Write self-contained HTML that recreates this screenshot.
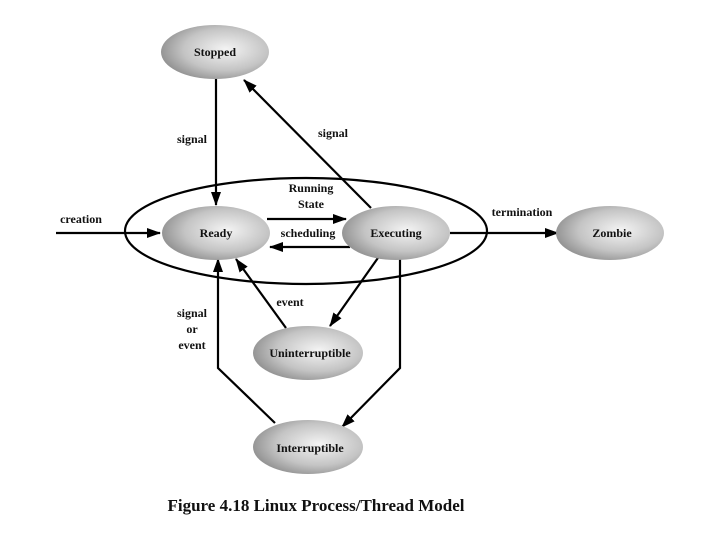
<!DOCTYPE html>
<html><head><meta charset="utf-8"><style>
html,body{margin:0;padding:0;background:#fff;}
svg{display:block;}
text{font-family:"Liberation Serif",serif;font-weight:bold;fill:#111;}
</style></head><body>
<svg width="720" height="540" viewBox="0 0 720 540" xmlns="http://www.w3.org/2000/svg">
<defs>
<radialGradient id="g" cx="0.6" cy="0.45" r="0.65">
<stop offset="0" stop-color="#f4f4f4"/>
<stop offset="0.6" stop-color="#c4c4c4"/>
<stop offset="1" stop-color="#8a8a8a"/>
</radialGradient>
<marker id="a" markerWidth="14" markerHeight="10" refX="13" refY="5" orient="auto" markerUnits="userSpaceOnUse">
<path d="M0,0 L14,5 L0,10 Z" fill="#000"/>
</marker>
</defs>
<g stroke="#000" stroke-width="2.2" fill="none">
<ellipse cx="306" cy="231" rx="181" ry="53"/>
<line x1="216" y1="78" x2="216" y2="205" marker-end="url(#a)"/>
<line x1="371" y1="208" x2="244" y2="80" marker-end="url(#a)"/>
<line x1="56" y1="233" x2="160" y2="233" marker-end="url(#a)"/>
<line x1="267" y1="219" x2="346" y2="219" marker-end="url(#a)"/>
<line x1="350" y1="247" x2="270" y2="247" marker-end="url(#a)"/>
<line x1="450" y1="233" x2="558" y2="233" marker-end="url(#a)"/>
<line x1="380" y1="255" x2="330" y2="326" marker-end="url(#a)"/>
<line x1="286" y1="328" x2="236" y2="259" marker-end="url(#a)"/>
<polyline points="400,258 400,368 342,427" marker-end="url(#a)"/>
<polyline points="275,423 218,368 218,259" marker-end="url(#a)"/>
</g>
<g>
<ellipse cx="215" cy="52" rx="54" ry="27" fill="url(#g)"/>
<ellipse cx="216" cy="233" rx="54" ry="27" fill="url(#g)"/>
<ellipse cx="396" cy="233" rx="54" ry="27" fill="url(#g)"/>
<ellipse cx="610" cy="233" rx="54" ry="27" fill="url(#g)"/>
<ellipse cx="308" cy="353" rx="55" ry="27" fill="url(#g)"/>
<ellipse cx="308" cy="447" rx="55" ry="27" fill="url(#g)"/>
</g>
<g font-size="12" text-anchor="middle">
<text x="215" y="56">Stopped</text>
<text x="216" y="237">Ready</text>
<text x="396" y="237">Executing</text>
<text x="612" y="237">Zombie</text>
<text x="310" y="357">Uninterruptible</text>
<text x="310" y="452">Interruptible</text>
<text x="192" y="143">signal</text>
<text x="333" y="137">signal</text>
<text x="81" y="223">creation</text>
<text x="311" y="192">Running</text>
<text x="311" y="208">State</text>
<text x="308" y="237">scheduling</text>
<text x="522" y="216">termination</text>
<text x="290" y="306">event</text>
<text x="192" y="317">signal</text>
<text x="192" y="333">or</text>
<text x="192" y="349">event</text>
</g>
<text x="316" y="511" font-size="17" text-anchor="middle">Figure 4.18   Linux Process/Thread Model</text>
</svg>
</body></html>
